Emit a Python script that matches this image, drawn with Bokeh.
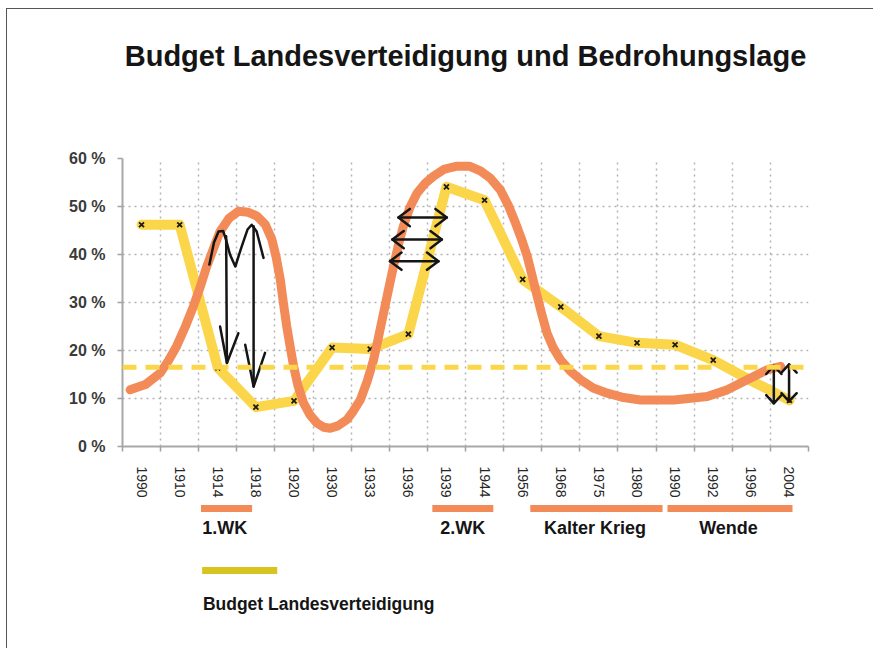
from bokeh.plotting import figure
from bokeh.models import FixedTicker, Range1d, Span
from bokeh.layouts import column
from bokeh.embed import file_html
from bokeh.resources import INLINE
from bokeh.core.properties import value

# ---------------- data ----------------
title_text = "Budget Landesverteidigung und Bedrohungslage"
years = ["1990", "1910", "1914", "1918", "1920", "1930", "1933", "1936", "1939",
         "1944", "1956", "1968", "1975", "1980", "1990", "1992", "1996", "2004"]
budget = [46.2, 46.2, 16.4, 8.2, 9.5, 20.6, 20.3, 23.4, 54.1,
          51.3, 34.8, 29.1, 23.0, 21.6, 21.2, 18.0, 13.7, 9.6]
marked = [True] * 16 + [False, True]          # 1996 has no cross
budget_mean = 16.5

# threat curve ("Bedrohungslage")
threat_x = [-0.30, 0.10, 0.49, 0.70, 0.92, 1.15, 1.36, 1.55, 1.71, 1.90, 2.06, 2.30,
            2.54, 2.80, 3.03, 3.25, 3.42, 3.53, 3.64, 3.72, 3.81, 3.90, 3.99, 4.10,
            4.25, 4.42, 4.60, 4.78, 4.95, 5.15, 5.39, 5.55, 5.74, 5.92, 6.09, 6.22,
            6.35, 6.48, 6.61, 6.74, 6.87, 7.04, 7.23, 7.45, 7.66, 7.95, 8.28, 8.60,
            8.89, 9.15, 9.41, 9.62, 9.81, 9.97, 10.12, 10.25, 10.38, 10.51, 10.64,
            10.80, 10.99, 11.25, 11.52, 11.85, 12.22, 12.65, 13.09, 13.97, 14.84,
            15.37, 15.89, 16.42, 16.77]
threat_y = [11.8, 12.9, 15.3, 17.8, 20.9, 25.0, 29.2, 33.5, 37.5, 41.5, 44.8, 47.6,
            49.0, 48.8, 48.0, 46.2, 43.1, 39.5, 34.8, 30.0, 25.0, 20.8, 16.7, 12.8,
            9.1, 6.6, 4.9, 4.0, 3.8, 4.3, 5.6, 7.3, 9.7, 13.6, 18.1, 22.9,
            27.8, 32.7, 37.5, 42.0, 45.9, 49.8, 52.8, 54.9, 56.3, 57.8, 58.4, 58.4,
            57.4, 55.9, 53.5, 50.3, 46.6, 43.2, 39.6, 35.5, 31.3, 27.3, 23.6,
            20.6, 18.1, 15.7, 13.9, 12.2, 11.1, 10.2, 9.7, 9.7, 10.4,
            11.8, 13.9, 16.0, 16.7]

y_ticks = [0, 10, 20, 30, 40, 50, 60]
y_tick_labels = ["0 %", "10 %", "20 %", "30 %", "40 %", "50 %", "60 %"]

periods_left = ["1.WK", "2.WK"]
periods_left_x = [1.59, 7.84]
periods_center = ["Kalter Krieg", "Wende"]
periods_center_x = [11.9, 15.4]
period_start = [1.56, 7.63, 10.20, 13.80]
period_end = [2.90, 9.23, 13.67, 17.08]

legend_text = "Budget Landesverteidigung"
legend_start, legend_end = 1.59, 3.56

# hand-drawn black arrows (data coordinates)
wk1_xs = [[1.78, 1.90, 2.02, 2.14, 2.22, 2.32, 2.46, 2.62, 2.78, 2.89, 3.02, 3.20],
          [2.22, 2.24], [2.06, 2.24, 2.54], [2.94, 2.94], [2.72, 2.94, 3.24]]
wk1_ys = [[37.9, 42.5, 44.8, 44.9, 43.0, 40.0, 37.5, 41.5, 45.2, 46.2, 44.8, 39.3],
          [43.8, 17.4], [25.0, 17.4, 23.6], [45.9, 12.5], [21.2, 12.5, 19.5]]
wk2_rows = [47.7, 43.1, 38.6]
wk2_left = [6.74, 6.58, 6.52]
wk2_right = [8.01, 7.88, 7.79]
end_x = [16.59, 16.99]
end_bottom = [9.0, 9.4]
end_top = [16.8, 17.1]

# ---------------- styles ----------------
ORANGE = "#F28B58"
YELLOW = "#FCD64A"
LEGEND_YELLOW = "#D8C41F"
FONT = "Liberation Sans"
W = 866
BL, BR = 115, 65


def blank(height, yr):
    f = figure(width=W, height=height, x_range=x_range, y_range=yr,
               x_axis_type=None, y_axis_type=None, toolbar_location=None,
               output_backend="svg", min_border_left=BL, min_border_right=BR,
               min_border_top=0, min_border_bottom=0)
    f.outline_line_color = None
    f.grid.visible = False
    return f


x_range = Range1d(-0.5, 17.5)

# ---------------- title ----------------
p0 = blank(79, Range1d(79, 0))
p0.text(x=[8.5], y=[46], text=[title_text], text_align="center",
        text_baseline="alphabetic", text_font=value(FONT), text_font_style="bold",
        text_font_size="29px", text_color="#151515")

# ---------------- main chart ----------------
p = figure(width=W, height=412, x_range=x_range, y_range=Range1d(0, 60),
           toolbar_location=None, output_backend="svg",
           min_border_left=BL, min_border_right=BR, min_border_top=70, min_border_bottom=53)
p.outline_line_color = None

p.xaxis.ticker = FixedTicker(ticks=list(range(len(years))),
                             minor_ticks=[i - 0.5 for i in range(len(years) + 1)])
p.xaxis.major_label_overrides = {i: y for i, y in enumerate(years)}
p.xaxis.major_tick_in = 0
p.xaxis.major_tick_out = 0
p.xaxis.minor_tick_in = 0
p.xaxis.minor_tick_out = 5
p.xaxis.minor_tick_line_color = "#a0a0a0"
p.xaxis.minor_tick_line_width = 1.5
p.xaxis.major_label_orientation = "vertical"
p.xaxis.major_label_standoff = 15
p.xaxis.axis_line_color = "#a8a8a8"
p.xaxis.axis_line_width = 2
p.xaxis.major_label_text_font = FONT
p.xaxis.major_label_text_font_size = "14px"
p.xaxis.major_label_text_color = "#262626"

p.yaxis.ticker = FixedTicker(ticks=y_ticks)
p.yaxis.major_label_overrides = dict(zip(y_ticks, y_tick_labels))
p.yaxis.minor_tick_line_color = None
p.yaxis.major_tick_in = 0
p.yaxis.major_tick_out = 5
p.yaxis.major_tick_line_color = "#a0a0a0"
p.yaxis.major_tick_line_width = 1.5
p.yaxis.major_label_standoff = 12
p.yaxis.axis_line_color = "#a8a8a8"
p.yaxis.axis_line_width = 2
p.yaxis.major_label_text_font = FONT
p.yaxis.major_label_text_font_size = "16px"
p.yaxis.major_label_text_font_style = "bold"
p.yaxis.major_label_text_color = "#3a3a3a"

p.xgrid.ticker = FixedTicker(ticks=[i + 0.5 for i in range(len(years))])
p.grid.grid_line_color = "#b3b3b3"
p.grid.grid_line_dash = "2 4"
p.grid.grid_line_width = 1.5

p.add_layout(Span(location=budget_mean, dimension="width", line_color=YELLOW,
                  line_width=5, line_dash="14 9"))

xs = list(range(len(years)))
p.line(xs, budget, line_width=10, line_color=YELLOW, line_join="round", line_cap="round")
p.scatter([x for x, m in zip(xs, marked) if m], [b for b, m in zip(budget, marked) if m],
          marker="x", size=7, line_color="#1a1a1a", line_width=1.8)
p.line(threat_x, threat_y, line_width=9, line_color=ORANGE, line_join="round", line_cap="round")

# arrows
axs, ays = list(wk1_xs), list(wk1_ys)
hdx, hdy = 0.30, 1.8
for y, xl, xr in zip(wk2_rows, wk2_left, wk2_right):
    axs += [[xl, xr], [xl + hdx, xl, xl + hdx], [xr - hdx, xr, xr - hdx]]
    ays += [[y, y], [y + hdy, y, y - hdy], [y + hdy, y, y - hdy]]
vdx, vdy = 0.2, 1.7
for x, yb, yt in zip(end_x, end_bottom, end_top):
    axs += [[x, x], [x - vdx, x, x + vdx], [x - vdx, x, x + vdx]]
    ays += [[yb, yt], [yt - vdy, yt, yt - vdy], [yb + vdy, yb, yb + vdy]]
p.multi_line(axs, ays, line_color="#151515", line_width=2.5, line_join="round", line_cap="round")

# ---------------- lower legend area ----------------
p2 = blank(148, Range1d(148, 0))
p2.quad(left=period_start, right=period_end, top=4.5, bottom=11.5,
        fill_color=ORANGE, line_color=None)
p2.text(x=periods_left_x, y=[27] * len(periods_left), text=periods_left,
        text_align="left", text_baseline="middle", text_font=value(FONT),
        text_font_style="bold", text_font_size="18px", text_color="#151515")
p2.text(x=periods_center_x, y=[27] * len(periods_center), text=periods_center,
        text_align="center", text_baseline="middle", text_font=value(FONT),
        text_font_style="bold", text_font_size="18px", text_color="#151515")
p2.quad(left=[legend_start], right=[legend_end], top=66.5, bottom=73.5,
        fill_color=LEGEND_YELLOW, line_color=None)
p2.text(x=[legend_start + 0.02], y=[103], text=[legend_text],
        text_align="left", text_baseline="middle", text_font=value(FONT),
        text_font_style="bold", text_font_size="17.5px", text_color="#151515")

layout = column(p0, p, p2, styles={"margin-left": "6px", "margin-top": "8px",
                                   "border-left": "1.5px solid #555",
                                   "border-top": "1.5px solid #555"})
open("out.html", "w").write(file_html(layout, INLINE))
